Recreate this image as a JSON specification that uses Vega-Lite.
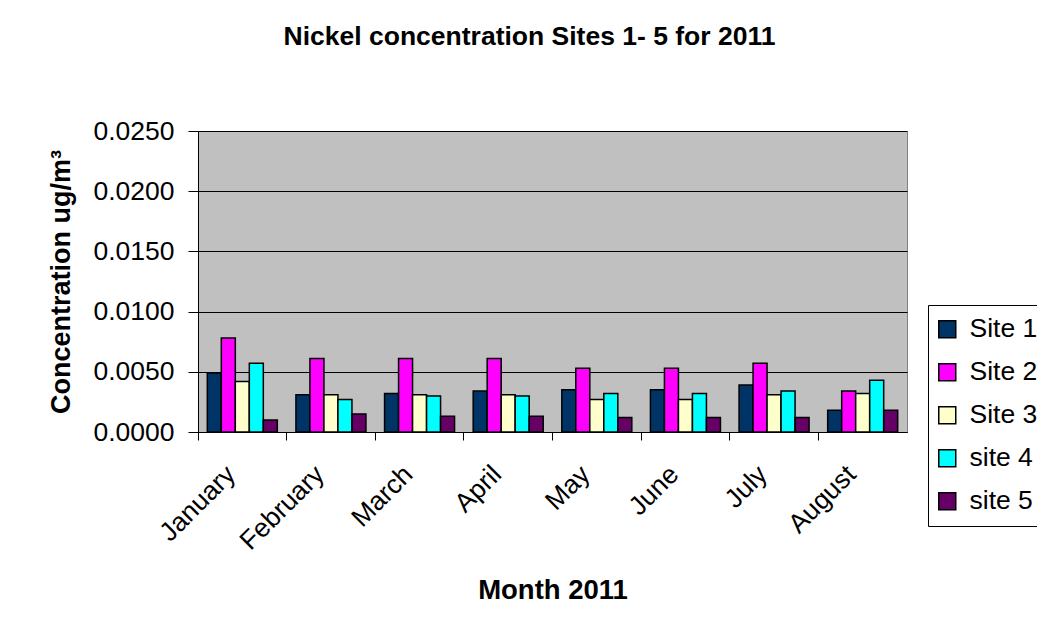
{
  "$schema": "https://vega.github.io/schema/vega-lite/v6.json",
  "width": 709,
  "height": 301,
  "autosize": {"type": "none"},
  "padding": {"left": 198, "top": 131, "right": 130, "bottom": 202},
  "background": "white",
  "config": {
    "font": "Liberation Sans",
    "view": {"fill": "#C0C0C0", "stroke": "#808080", "strokeWidth": 1}
  },
  "title": {
    "text": "Nickel concentration Sites 1- 5 for 2011",
    "fontSize": 26.5,
    "fontWeight": "bold",
    "color": "black",
    "anchor": "middle",
    "baseline": "alphabetic",
    "offset": 47,
    "dx": -23
  },
  "data": {
    "values": [
      {"month": "January", "site": "Site 1", "value": 0.0049},
      {"month": "January", "site": "Site 2", "value": 0.0078},
      {"month": "January", "site": "Site 3", "value": 0.0042},
      {"month": "January", "site": "site 4", "value": 0.0057},
      {"month": "January", "site": "site 5", "value": 0.0010},
      {"month": "February", "site": "Site 1", "value": 0.0031},
      {"month": "February", "site": "Site 2", "value": 0.0061},
      {"month": "February", "site": "Site 3", "value": 0.0031},
      {"month": "February", "site": "site 4", "value": 0.0027},
      {"month": "February", "site": "site 5", "value": 0.0015},
      {"month": "March", "site": "Site 1", "value": 0.0032},
      {"month": "March", "site": "Site 2", "value": 0.0061},
      {"month": "March", "site": "Site 3", "value": 0.0031},
      {"month": "March", "site": "site 4", "value": 0.0030},
      {"month": "March", "site": "site 5", "value": 0.0013},
      {"month": "April", "site": "Site 1", "value": 0.0034},
      {"month": "April", "site": "Site 2", "value": 0.0061},
      {"month": "April", "site": "Site 3", "value": 0.0031},
      {"month": "April", "site": "site 4", "value": 0.0030},
      {"month": "April", "site": "site 5", "value": 0.0013},
      {"month": "May", "site": "Site 1", "value": 0.0035},
      {"month": "May", "site": "Site 2", "value": 0.0053},
      {"month": "May", "site": "Site 3", "value": 0.0027},
      {"month": "May", "site": "site 4", "value": 0.0032},
      {"month": "May", "site": "site 5", "value": 0.0012},
      {"month": "June", "site": "Site 1", "value": 0.0035},
      {"month": "June", "site": "Site 2", "value": 0.0053},
      {"month": "June", "site": "Site 3", "value": 0.0027},
      {"month": "June", "site": "site 4", "value": 0.0032},
      {"month": "June", "site": "site 5", "value": 0.0012},
      {"month": "July", "site": "Site 1", "value": 0.0039},
      {"month": "July", "site": "Site 2", "value": 0.0057},
      {"month": "July", "site": "Site 3", "value": 0.0031},
      {"month": "July", "site": "site 4", "value": 0.0034},
      {"month": "July", "site": "site 5", "value": 0.0012},
      {"month": "August", "site": "Site 1", "value": 0.0018},
      {"month": "August", "site": "Site 2", "value": 0.0034},
      {"month": "August", "site": "Site 3", "value": 0.0032},
      {"month": "August", "site": "site 4", "value": 0.0043},
      {"month": "August", "site": "site 5", "value": 0.0018}
    ]
  },
  "mark": {"type": "bar", "stroke": "black", "strokeWidth": 1.5},
  "encoding": {
    "x": {
      "field": "month",
      "type": "nominal",
      "sort": ["January", "February", "March", "April", "May", "June", "July", "August"],
      "scale": {"paddingInner": 0, "paddingOuter": 0},
      "axis": {
        "title": "Month 2011",
        "titleFontSize": 27.5,
        "titleFontWeight": "bold",
        "titleColor": "black",
        "titlePadding": 22,
        "labelAngle": -45,
        "labelFontSize": 26.5,
        "labelColor": "black",
        "labelPadding": 30,
        "labelOffset": -11,
        "bandPosition": 0,
        "tickSize": 8,
        "tickColor": "black",
        "domainColor": "black",
        "labelAlign": "right",
        "labelBaseline": "middle"
      }
    },
    "xOffset": {
      "field": "site",
      "type": "nominal",
      "sort": ["Site 1", "Site 2", "Site 3", "site 4", "site 5"],
      "scale": {"paddingInner": 0, "paddingOuter": 0.665}
    },
    "y": {
      "field": "value",
      "type": "quantitative",
      "scale": {"domain": [0, 0.025], "nice": false},
      "axis": {
        "title": "Concentration ug/m³",
        "titleFontSize": 27,
        "titleFontWeight": "bold",
        "titleColor": "black",
        "titlePadding": 17,
        "values": [0, 0.005, 0.01, 0.015, 0.02, 0.025],
        "format": ".4f",
        "labelFontSize": 26.5,
        "labelColor": "black",
        "labelPadding": 14,
        "tickSize": 10,
        "tickColor": "black",
        "domainColor": "black",
        "grid": true,
        "gridColor": "black",
        "gridWidth": 1
      }
    },
    "color": {
      "field": "site",
      "type": "nominal",
      "sort": ["Site 1", "Site 2", "Site 3", "site 4", "site 5"],
      "scale": {
        "domain": ["Site 1", "Site 2", "Site 3", "site 4", "site 5"],
        "range": ["#003366", "#FF00FF", "#FFFFCC", "#00FFFF", "#660066"]
      },
      "legend": {
        "title": null,
        "orient": "none",
        "legendX": 730,
        "legendY": 174,
        "symbolType": "square",
        "symbolSize": 289,
        "symbolStrokeColor": "black",
        "symbolStrokeWidth": 1.5,
        "symbolOpacity": 1,
        "symbolOffset": -5,
        "labelFontSize": 26.5,
        "labelColor": "black",
        "labelOffset": 9,
        "rowPadding": 16,
        "padding": 11,
        "strokeColor": "black",
        "fillColor": "white"
      }
    }
  }
}
